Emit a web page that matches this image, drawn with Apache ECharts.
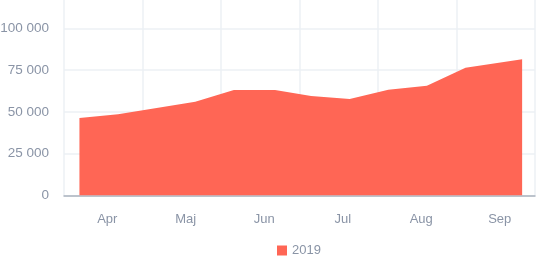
<!DOCTYPE html>
<html>
<head>
<meta charset="utf-8">
<script src="https://cdn.jsdelivr.net/npm/echarts@6/dist/echarts.min.js"></script>
<style>
html,body{margin:0;padding:0;background:#fff;}
#c{width:537px;height:258px;}
</style>
</head>
<body>
<div id="c"></div>
<script>
var months = ['Apr', 'Maj', 'Jun', 'Jul', 'Aug', 'Sep'];
var dates = ['2019-04-07','2019-04-22','2019-05-07','2019-05-22','2019-06-06','2019-06-22','2019-07-06','2019-07-21','2019-08-05','2019-08-20','2019-09-04','2019-09-26'];
var values2019 = [46400, 48600, 52300, 56100, 63100, 63100, 59500, 57700, 63300, 65700, 76400, 81600];
var seriesName = '2019';

var chart = echarts.init(document.getElementById('c'), null, {renderer: 'canvas'});
var labelColor = '#8a94a6';
var gridColor = '#edf0f4';
var fmt = function (v) { return v % 25000 === 0 ? String(v).replace(/\B(?=(\d{3})+(?!\d))/g, ' ') : ''; };
chart.setOption({
  animation: false,
  textStyle: {fontFamily: 'Liberation Sans, Arial, sans-serif'},
  grid: {left: 64, right: 2, top: 0, bottom: 62.5, outerBoundsMode: 'none', containLabel: false},
  legend: {
    data: [seriesName], top: 244, left: 277,
    icon: 'rect', itemWidth: 10, itemHeight: 10, itemGap: 6, padding: 0,
    textStyle: {color: labelColor, fontSize: 13}
  },
  xAxis: [{
    type: 'category', data: months, boundaryGap: true,
    axisTick: {show: false},
    axisLine: {lineStyle: {color: '#aab2bf', width: 1.5}},
    axisLabel: {color: labelColor, fontSize: 13, margin: 17, padding: [0, 0, 0, 8]},
    splitLine: {show: true, lineStyle: {color: gridColor, width: 1.5}}
  }, {
    type: 'time', show: false,
    min: '2019-04-01', max: '2019-10-01'
  }],
  yAxis: {
    type: 'value', min: 0, max: 117000, interval: 25000,
    axisLine: {show: false}, axisTick: {show: false},
    axisLabel: {color: labelColor, fontSize: 13.5, margin: 15, formatter: fmt, showMaxLabel: false},
    splitLine: {showMaxLine: false, lineStyle: {color: gridColor, width: 1.5}}
  },
  series: [{
    name: seriesName, type: 'line', xAxisIndex: 1,
    data: dates.map(function (d, i) { return [d, values2019[i]]; }),
    showSymbol: false, symbol: 'none',
    color: '#ff6655',
    lineStyle: {width: 0},
    areaStyle: {color: '#ff6655', opacity: 1}
  }]
});
</script>
</body>
</html>
